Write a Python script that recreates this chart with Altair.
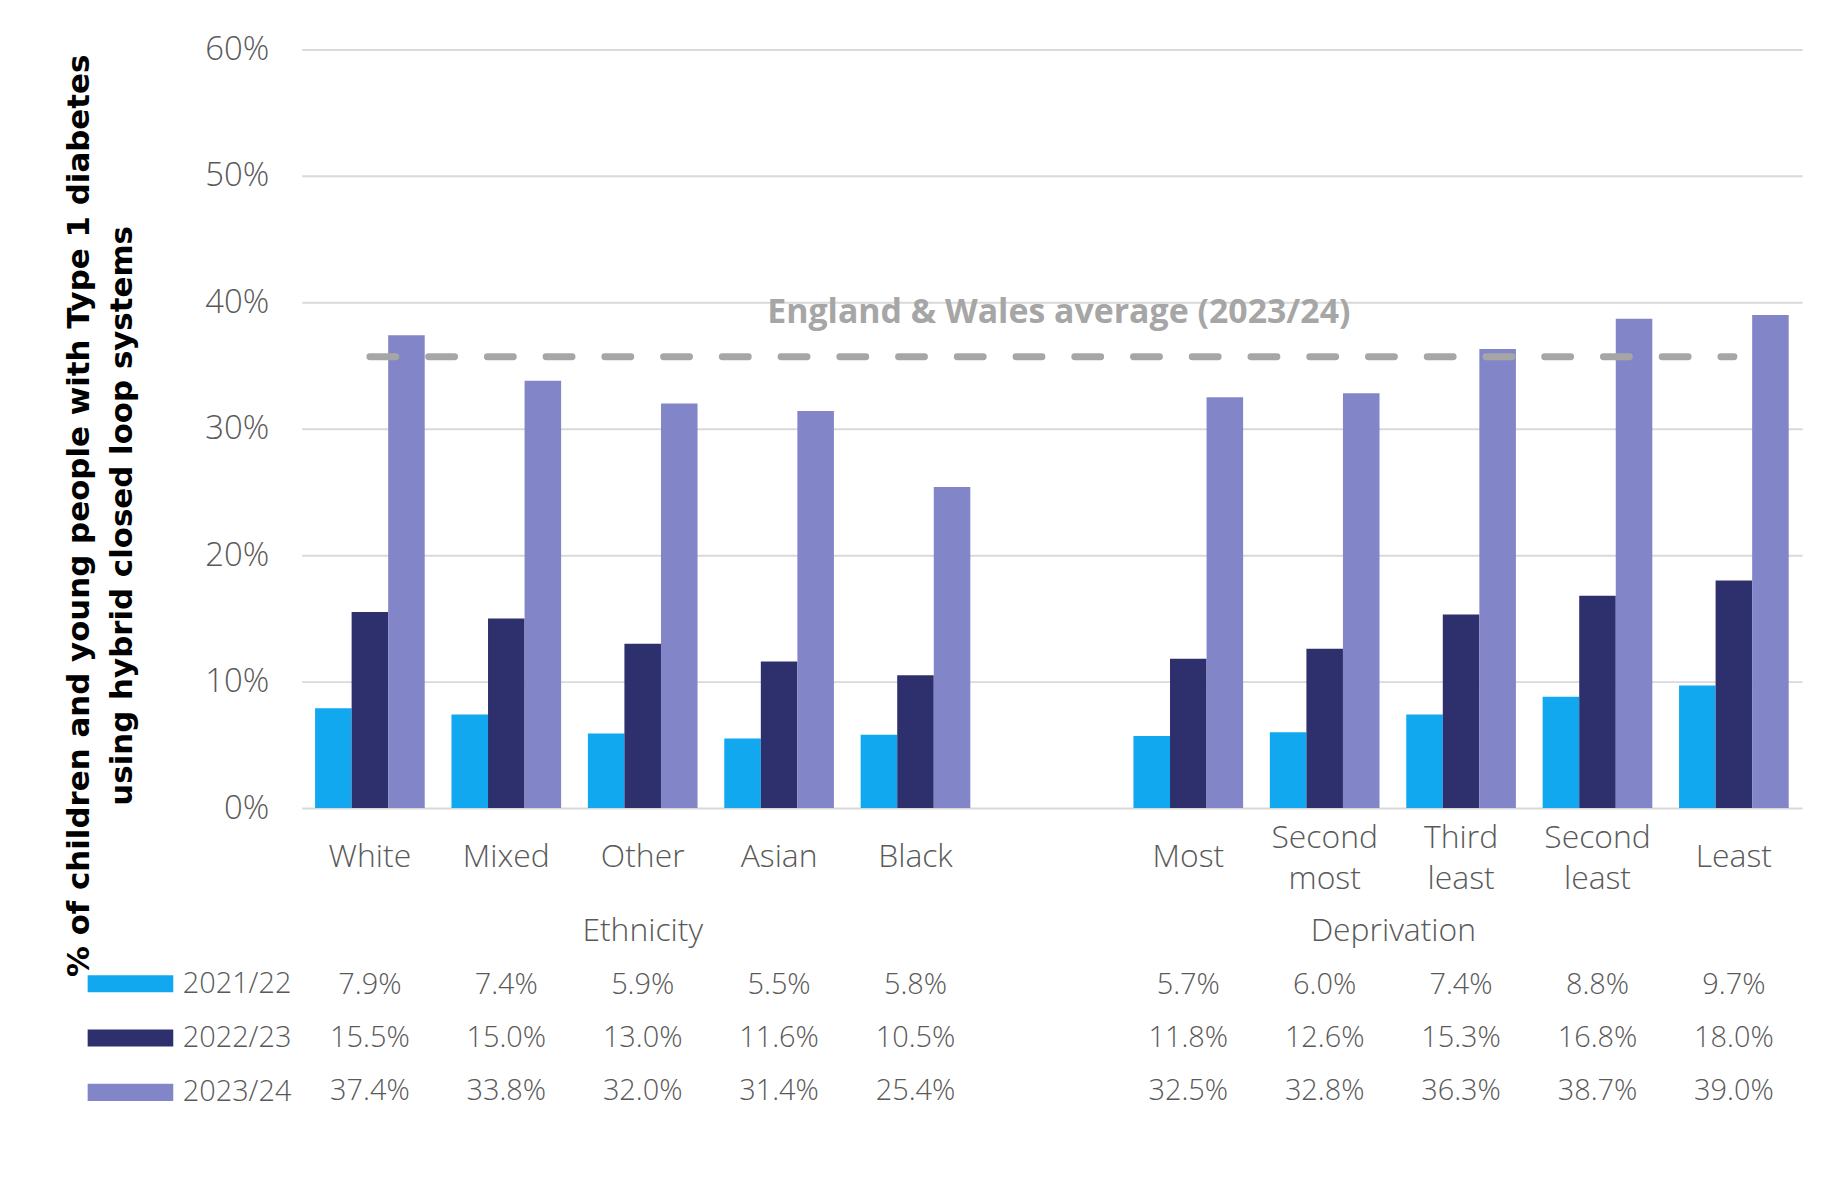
import altair as alt
import pandas as pd

# ---------------- data ----------------
eth_categories = ["White", "Mixed", "Other", "Asian", "Black"]
dep_categories = ["Most", "Second most", "Third least", "Second least", "Least"]
gap_category = " "
years = ["2021/22", "2022/23", "2023/24"]

eth_2021_22 = [7.9, 7.4, 5.9, 5.5, 5.8]
eth_2022_23 = [15.5, 15.0, 13.0, 11.6, 10.5]
eth_2023_24 = [37.4, 33.8, 32.0, 31.4, 25.4]
dep_2021_22 = [5.7, 6.0, 7.4, 8.8, 9.7]
dep_2022_23 = [11.8, 12.6, 15.3, 16.8, 18.0]
dep_2023_24 = [32.5, 32.8, 36.3, 38.7, 39.0]

average_2023_24 = 35.7
average_label = "England & Wales average (2023/24)"
group_names = ["Ethnicity", "Deprivation"]
y_ticks = [0, 10, 20, 30, 40, 50, 60]
y_title = ["% of children and young people with Type 1 diabetes",
           "using hybrid closed loop systems"]
colors = ["#12A8F0", "#2E306D", "#8286C8"]

# ---------------- tables ----------------
rows = []
series = {
    years[0]: eth_2021_22 + dep_2021_22,
    years[1]: eth_2022_23 + dep_2022_23,
    years[2]: eth_2023_24 + dep_2023_24,
}
cats = eth_categories + dep_categories
for yr, vals in series.items():
    for c, v in zip(cats, vals):
        rows.append({"category": c, "year": yr, "value": v, "label": f"{v:.1f}%"})
df = pd.DataFrame(rows)

avg_df = pd.DataFrame([{"start": eth_categories[0], "end": dep_categories[-1],
                        "avg": average_2023_24, "category": gap_category,
                        "text": average_label}])
eth_group_df = pd.DataFrame([{"category": eth_categories[2], "year": "group", "text": group_names[0]}])
dep_group_df = pd.DataFrame([{"category": dep_categories[2], "year": "group", "text": group_names[1]}])

# ---------------- styling ----------------
FONT = "Open Sans"
GREY = "#595959"
FS_TABLE = 29
FS_LABEL = 32

domain = eth_categories + [gap_category] + dep_categories
x_scale = alt.Scale(domain=domain, paddingInner=0.196, paddingOuter=0.098)
x_axis = alt.Axis(title=None, domain=False, ticks=False, tickSize=0, grid=False,
                  labelExpr="split(datum.label, ' ')", labelAngle=0,
                  labelBaseline="middle",
                  labelPadding={"condition": {"test": "indexof(datum.value, ' ') > 0", "value": 29.5},
                                "value": 49},
                  labelLineHeight=41,
                  labelFontSize=FS_LABEL, labelColor=GREY, labelFont=FONT, labelFontWeight=300)

y_main_scale = alt.Scale(domain=[0, 60], nice=False)
y_axis = alt.Axis(values=y_ticks, labelExpr="datum.value + '%'", domain=False, ticks=False,
                  tickSize=0, labelPadding=33, labelFontSize=33, labelColor=GREY,
                  labelFont=FONT, labelFontWeight=300,
                  grid=True, gridColor="#D9D9D9", gridWidth=2,
                  title=y_title, titleFont="DejaVu Sans", titleFontSize=31, titleFontWeight="bold",
                  titleColor="#000000", titleAngle=-90, titleX=-223, titleY=468,
                  titleAlign="center", titleBaseline="middle", titleLineHeight=43)

row_scale = alt.Scale(type="point", domain=["group"] + years, range=[886, 1046],
                      padding=0)

bars = alt.Chart(df).mark_bar().encode(
    x=alt.X("category:N", scale=x_scale, axis=x_axis),
    xOffset=alt.XOffset("year:N", scale=alt.Scale(domain=years, paddingInner=0, paddingOuter=0)),
    y=alt.Y("value:Q", scale=y_main_scale, axis=y_axis),
    color=alt.Color("year:N", scale=alt.Scale(domain=years, range=colors),
                    legend=alt.Legend(title=None, orient="none", legendX=-215, legendY=917,
                                      symbolType="M-2,-0.4H2V0.4H-2Z", symbolSize=1849,
                                      symbolOffset=21.5,
                                      symbolStrokeWidth=0, symbolOpacity=1,
                                      labelFontSize=FS_TABLE, labelColor=GREY, labelFont=FONT,
                                      labelFontWeight=300, labelOffset=31, rowPadding=17.5,
                                      padding=0)),
)

avg_rule = alt.Chart(avg_df).mark_rule(color="#A6A6A6", strokeWidth=7, strokeCap="round",
                                      strokeDash=[26, 33]).encode(
    x=alt.X("start:N", scale=x_scale, axis=x_axis),
    x2="end:N",
    y=alt.Y("avg:Q", scale=y_main_scale, axis=y_axis),
)

avg_text = alt.Chart(avg_df).mark_text(font=FONT, fontSize=34, fontWeight="bold",
                                       color="#A6A6A6", dy=-44, dx=7, baseline="middle").encode(
    x=alt.X("category:N", scale=x_scale, axis=x_axis),
    y=alt.Y("avg:Q", scale=y_main_scale, axis=y_axis),
    text="text:N",
)

main = alt.layer(bars, avg_rule, avg_text)

table_text = alt.Chart(df).mark_text(font=FONT, fontSize=FS_TABLE, fontWeight=300, color=GREY,
                                     baseline="middle").encode(
    x=alt.X("category:N", scale=x_scale, axis=x_axis),
    y=alt.Y("year:N", scale=row_scale, axis=None),
    text="label:N",
)

eth_text = alt.Chart(eth_group_df).mark_text(font=FONT, fontSize=FS_LABEL, fontWeight=300,
                                             color=GREY, baseline="middle").encode(
    x=alt.X("category:N", scale=x_scale, axis=x_axis),
    y=alt.Y("year:N", scale=row_scale, axis=None),
    text="text:N",
)

dep_text = alt.Chart(dep_group_df).mark_text(font=FONT, fontSize=FS_LABEL, fontWeight=300,
                                             color=GREY, baseline="middle", dx=-13).encode(
    x=alt.X("category:N", scale=x_scale, axis=x_axis, bandPosition=0),
    y=alt.Y("year:N", scale=row_scale, axis=None),
    text="text:N",
)

table = alt.layer(table_text, eth_text, dep_text)

chart = alt.layer(main, table).resolve_scale(y="independent").properties(
    width=1507, height=762,
    padding={"left": 295, "top": 39, "right": 18, "bottom": 378},
    autosize=alt.AutoSizeParams(type="none"),
    background="white",
).configure_view(stroke=None)

chart.save("out.html", embed_options={"renderer": "svg", "actions": False})
